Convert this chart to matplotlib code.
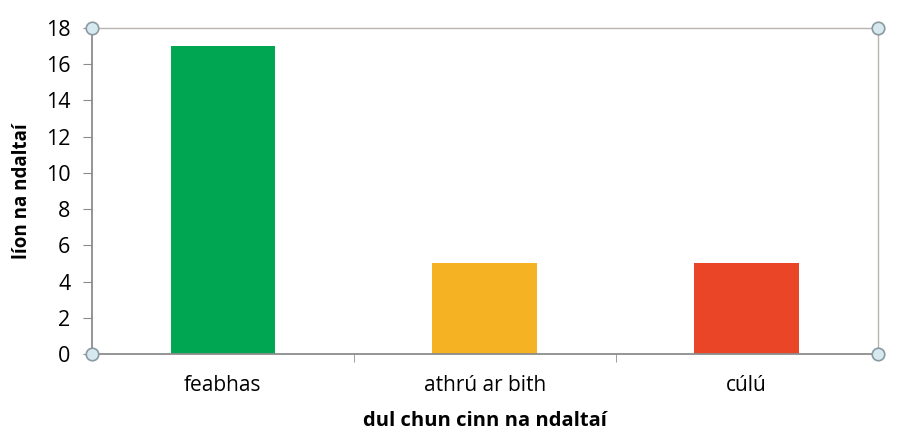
import numpy as np
import matplotlib
matplotlib.use("Agg")
import matplotlib.pyplot as plt

categories = ["feabhas", "athrú ar bith", "cúlú"]
values = [17, 5, 5]
colors = ["#00A651", "#F5B324", "#EA4526"]
y_ticks = [0, 2, 4, 6, 8, 10, 12, 14, 16, 18]

plt.rcParams['font.family'] = ['Open Sans', 'DejaVu Sans']

fig = plt.figure(figsize=(9.2, 4.36), dpi=100)
ax = fig.add_axes([0.1, 0.188, 0.854, 0.748])

x = np.arange(len(categories))
ax.bar(x, values, width=0.4, color=colors, zorder=2)

ax.set_xlim(-0.5, len(categories) - 0.5)
ax.set_ylim(0, 18)
ax.set_yticks(y_ticks)
ax.tick_params(axis='y', labelsize=15.5, length=6.5, color='#8c8c8c', pad=9)

# category labels centred, tick marks between categories
ax.set_xticks(x)
ax.set_xticklabels(categories, fontsize=15)
ax.tick_params(axis='x', which='major', length=0, pad=15)
ax.set_xticks(x[:-1] + 0.5, minor=True)
ax.tick_params(axis='x', which='minor', length=6, color='#8c8c8c')

for side in ['top', 'right']:
    ax.spines[side].set_color('#b8b4b0')
    ax.spines[side].set_linewidth(1.0)
for side in ['left', 'bottom']:
    ax.spines[side].set_color('#8c8c8c')
    ax.spines[side].set_linewidth(1.3)

ax.set_ylabel("líon na ndaltaí", fontsize=13.5, fontweight='bold', labelpad=10)
ax.set_xlabel("dul chun cinn na ndaltaí", fontsize=14.5, fontweight='bold', labelpad=11)

# selection handles at the corners of the plot area
for cx, cy in [(0, 0), (1, 0), (0, 1), (1, 1)]:
    ax.plot(cx, cy, 'o', transform=ax.transAxes, markersize=9,
            markerfacecolor='#d6e9f0', markeredgecolor='#8a9aa0',
            markeredgewidth=1.2, clip_on=False, zorder=5)

fig.savefig("out.png", dpi=100)
